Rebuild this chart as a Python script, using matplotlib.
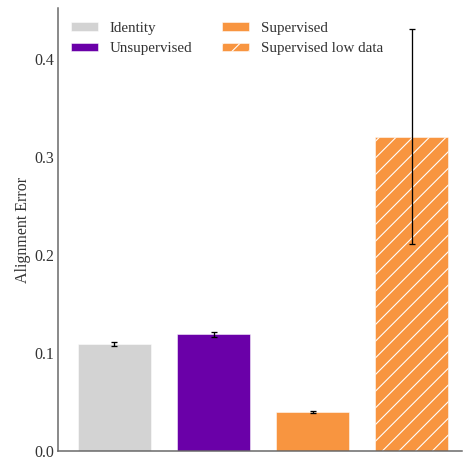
import matplotlib.pyplot as plt
from matplotlib.patches import Patch

DPI = 100
PX = 72.0 / DPI  # points per pixel

labels = ['Identity', 'Unsupervised', 'Supervised', 'Supervised low data']
values = [0.109, 0.119, 0.0395, 0.321]
errors = [0.002, 0.003, 0.001, 0.110]
colors = ['#d3d3d3', '#6a00a8', '#f89540', '#f89540']
hatches = ['', '', '', '//']

plt.rcParams['font.family'] = ['Liberation Serif', 'DejaVu Serif']
plt.rcParams['hatch.color'] = 'white'
plt.rcParams['hatch.linewidth'] = 1.1 * PX

fig = plt.figure(figsize=(464 / DPI, 457 / DPI), dpi=DPI)
ax = fig.add_axes([0.125, 0.013, 0.871, 0.969])

x = range(len(values))
for i in x:
    ax.bar(i, values[i], width=0.74, color=colors[i], hatch=hatches[i],
           edgecolor='white', linewidth=0.5 * PX)
    ax.errorbar(i, values[i], yerr=errors[i], color='black', capsize=3 * PX,
                elinewidth=1.3 * PX, capthick=1.3 * PX)

ax.set_xlim(-0.57, 3.51)
ax.set_ylim(0, 0.452)
ax.set_xticks([])
ax.set_yticks([0.0, 0.1, 0.2, 0.3, 0.4])
ax.tick_params(axis='y', length=0, pad=4 * PX, labelsize=16 * PX, labelcolor='#333333')
for s in ['top', 'right']:
    ax.spines[s].set_visible(False)
for s in ['left', 'bottom']:
    ax.spines[s].set_color('#666666')
    ax.spines[s].set_linewidth(1.5 * PX)
ax.set_ylabel('Alignment Error', fontsize=16 * PX, color='#333333', labelpad=3 * PX)

handles = [Patch(facecolor=colors[i], hatch=hatches[i], edgecolor='white',
                 linewidth=0.5 * PX) for i in range(len(labels))]
ax.legend(handles, labels, ncol=2, loc='upper left', frameon=False,
          fontsize=15 * PX, handlelength=1.8, handleheight=0.5,
          columnspacing=2.0, labelspacing=0.5, handletextpad=0.8,
          bbox_to_anchor=(-0.002, 1.0), labelcolor='#333333')

fig.savefig('out.png', dpi=DPI)
